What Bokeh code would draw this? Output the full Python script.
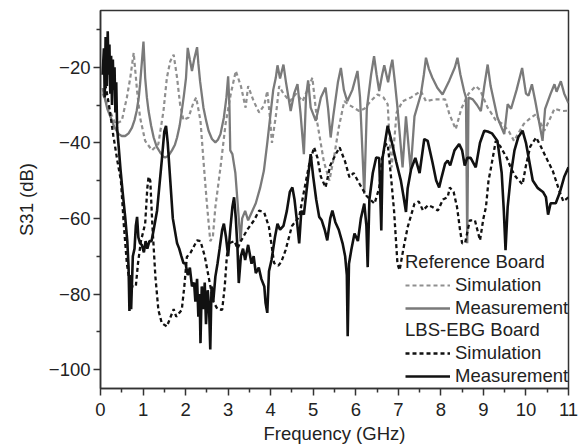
from bokeh.plotting import figure
from bokeh.models import FixedTicker, Legend, LegendItem
from bokeh.embed import file_html
from bokeh.resources import INLINE

# ---------------- data ----------------
ref_meas_f = [0.05, 0.08, 0.16, 0.24, 0.33, 0.43, 0.5, 0.58, 0.66, 0.74, 0.8, 0.85, 0.9, 0.93, 0.97, 1.01,
              1.03, 1.05, 1.09, 1.13, 1.19, 1.25, 1.32, 1.4, 1.47, 1.52, 1.6, 1.68, 1.75, 1.8, 1.86, 1.91,
              1.96, 2.01, 2.05, 2.1, 2.15, 2.2, 2.27, 2.3, 2.34, 2.42, 2.48, 2.54, 2.62, 2.7, 2.76, 2.82,
              2.9, 2.96, 3.0, 3.03, 3.05, 3.1, 3.17, 3.25, 3.29, 3.33, 3.4, 3.47, 3.55, 3.65, 3.75, 3.84,
              3.92, 4.0, 4.06, 4.12, 4.16, 4.22, 4.3, 4.36, 4.47, 4.55, 4.63, 4.7, 4.78, 4.83, 4.88, 4.94,
              5.06, 5.18, 5.29, 5.35, 5.41, 5.47, 5.58, 5.65, 5.72, 5.8, 5.92, 6.04, 6.1, 6.2, 6.26, 6.36,
              6.43, 6.49, 6.55, 6.62, 6.67, 6.72, 6.76, 6.82, 6.86, 6.92, 6.98, 7.1, 7.18, 7.29, 7.38, 7.53,
              7.6, 7.65, 7.72, 7.8, 7.92, 8.04, 8.2, 8.33, 8.39, 8.46, 8.55, 8.59, 8.62, 8.65, 8.75, 8.85,
              8.94, 9.02, 9.1, 9.17, 9.33, 9.49, 9.57, 9.65, 9.78, 9.91, 10.0, 10.06, 10.14, 10.22, 10.39,
              10.45, 10.58, 10.67, 10.72, 10.82, 10.9, 11.0]
ref_meas_db = [-25.5, -27.2, -31, -33.3, -36, -37.7, -38.2, -38.2, -37.5, -36, -34, -31.6, -28, -24.5, -19, -13.2,
               -18, -22.8, -28, -31.6, -35.5, -38.6, -41, -42.5, -43.6, -43.9, -43.4, -42, -40.5, -38.6, -35.5, -31.6,
               -27.5, -22.8, -14.9, -18, -21, -18, -14.7, -19, -23.7, -30.7, -34, -36.8, -39, -39.9, -39.2, -37.7,
               -33.3, -28, -22.4, -30, -42, -43, -48, -60, -66, -60, -58, -60.5, -58.5, -56, -52, -47.4,
               -40, -32, -26, -22.8, -19.5, -23, -19.3, -24, -31.6, -27, -24.5, -32, -43, -28, -23.5, -30.7,
               -34.2, -28, -25.4, -31, -38.6, -33, -24, -20.2, -26, -29, -26, -21, -28, -53.5, -31, -22,
               -17.1, -22, -26.3, -22, -19.5, -22, -24, -20, -18, -24, -30.7, -46.5, -33, -47.3, -33, -27.2,
               -22, -17.5, -20.5, -22.8, -25.5, -27.2, -23.5, -20, -17.5, -22, -26.5, -28, -66.6, -28, -28.5, -30,
               -31.6, -25, -19.3, -25, -33.3, -37.7, -29.8, -31, -26, -20.2, -27, -27.5, -24.5, -29, -39.5,
               -31, -27, -24.5, -26.5, -23.7, -27, -29.5]

ref_sim_f = [0.05, 0.2, 0.35, 0.5, 0.62, 0.7, 0.78, 0.86, 0.93, 1.05, 1.21, 1.36, 1.48, 1.56, 1.64, 1.72,
             1.8, 1.87, 1.95, 2.07, 2.18, 2.25, 2.35, 2.42, 2.5, 2.58, 2.64, 2.7, 2.82, 2.94, 3.06, 3.18, 3.3,
             3.41, 3.47, 3.6, 3.73, 3.85, 3.92, 3.98, 4.03, 4.12, 4.2, 4.3, 4.45, 4.6, 4.75, 4.9, 4.98,
             5.05, 5.1, 5.25, 5.38, 5.5, 5.6, 5.73, 5.85, 6.08, 6.2, 6.35, 6.51, 6.65, 6.75, 6.78, 6.84,
             6.9, 6.96, 7.1, 7.3, 7.53, 7.65, 7.85, 8.1, 8.2, 8.35, 8.48, 8.65, 8.82, 8.92, 9.1, 9.29,
             9.45, 9.6, 9.72, 9.82, 9.95, 10.1, 10.24, 10.43, 10.55, 10.67, 10.86, 11.0]
ref_sim_db = [-27, -31, -35, -34.2, -28, -22.8, -16.2, -26.3, -33.3, -39.5, -42, -40.3, -31.6, -22.8, -18.4, -16.7,
              -22.8, -29.8, -34, -33.3, -29.5, -28, -34.2, -44.7, -56, -66, -65, -57, -46.5, -35, -27.2, -21, -25,
              -30.7, -25, -29, -32, -30, -26.3, -33, -40, -33, -25, -27, -29, -27, -29, -25, -22.8,
              -30, -35, -45, -50, -43, -36, -29, -30, -31.6, -31, -29, -27.2, -28, -29.8, -36, -46.5,
              -40, -32, -29, -28, -26.3, -29, -28.5, -28.5, -32.4, -36.4, -31, -27, -25, -26, -30.7, -34,
              -35, -37, -39.5, -37.5, -35, -33.5, -32.4, -36.8, -34, -31, -31.6, -31.5]

lbs_meas_f = [0.05, 0.08, 0.1, 0.12, 0.15, 0.17, 0.19, 0.21, 0.23, 0.25, 0.27, 0.29, 0.31, 0.33, 0.35,
              0.37, 0.39, 0.42, 0.47, 0.52, 0.58, 0.63, 0.66, 0.68, 0.7, 0.72, 0.76, 0.8, 0.83, 0.86,
              0.89, 0.93, 0.97, 1.02, 1.06, 1.1, 1.15, 1.2, 1.25, 1.33, 1.44, 1.5, 1.54, 1.58, 1.64,
              1.7, 1.8, 1.85, 1.9, 1.95, 2.0, 2.05, 2.1, 2.15, 2.2, 2.23, 2.27, 2.3, 2.33, 2.35, 2.38,
              2.42, 2.45, 2.48, 2.52, 2.55, 2.58, 2.61, 2.65, 2.7, 2.75, 2.8, 2.86, 2.9, 2.95, 3.0,
              3.05, 3.1, 3.14, 3.18, 3.22, 3.25, 3.3, 3.35, 3.4, 3.47, 3.55, 3.6, 3.65, 3.72, 3.78,
              3.85, 3.88, 3.92, 3.96, 4.02, 4.1, 4.16, 4.22, 4.3, 4.38, 4.45, 4.51, 4.56, 4.62, 4.67,
              4.72, 4.78, 4.85, 4.94, 5.0, 5.07, 5.14, 5.2, 5.27, 5.33, 5.4, 5.45, 5.52, 5.6, 5.69,
              5.75, 5.79, 5.81, 5.84, 5.9, 5.97, 6.05, 6.12, 6.2, 6.25, 6.28, 6.32, 6.4, 6.48, 6.55,
              6.6, 6.63, 6.7, 6.75, 6.85, 6.95, 7.06, 7.12, 7.18, 7.22, 7.3, 7.4, 7.5, 7.61, 7.69,
              7.8, 7.89, 7.96, 8.02, 8.1, 8.16, 8.22, 8.32, 8.43, 8.5, 8.56, 8.62, 8.7, 8.82, 8.92,
              9.02, 9.1, 9.2, 9.33, 9.43, 9.48, 9.52, 9.57, 9.65, 9.73, 9.82, 9.92, 10.0, 10.08, 10.16,
              10.28, 10.4, 10.47, 10.52, 10.58, 10.7, 10.8, 10.9, 11.0]
lbs_meas_db = [-22, -15, -28, -12, -25, -10.5, -22, -14, -27, -17, -30, -18, -26, -20, -32,
               -24, -36, -40, -47, -53, -59.6, -66, -73, -84.5, -75, -84, -70, -68, -62, -59.6,
               -65, -66.6, -67, -69, -66, -68, -66, -66, -63, -57.9, -44.7, -37, -35.5, -40, -50,
               -60, -66.6, -68, -70, -71.8, -72, -75, -73, -78, -77, -82, -76, -86, -80, -93, -78,
               -84, -77, -88, -79, -83, -94.7, -78, -82, -75.4, -72, -68, -63, -61.4, -65, -70,
               -63, -57, -54.4, -60, -68, -77.1, -70, -68, -71, -67, -72, -70, -74.5, -73, -76,
               -78, -82.4, -85, -74, -71, -65, -61.4, -63, -62, -58, -53, -51.8, -55, -61, -66.6,
               -58, -59, -52, -43, -49, -55, -59.6, -60.5, -63, -65.8, -60, -57.9, -61, -63, -66.6,
               -70, -75, -91.2, -72, -68, -64, -66, -60, -56.1, -62, -72.9, -55, -48, -43.9, -44,
               -63.2, -44, -39, -35.5, -40, -45, -50, -54, -58.3, -52, -47, -44, -48, -39, -39.5,
               -45, -50, -51.8, -49, -45.5, -44.7, -46, -42, -40.3, -42, -46, -44, -44, -46.5, -40,
               -36.8, -37, -37.5, -39.5, -48, -58, -68.4, -57, -48, -42, -38.5, -36.8, -40, -45, -50,
               -52, -53, -54.4, -59, -56, -56, -53, -49, -46.5]

lbs_sim_f = [0.08, 0.12, 0.2, 0.3, 0.4, 0.48, 0.55, 0.62, 0.7, 0.74, 0.83, 0.88, 0.95, 1.05, 1.1, 1.13,
             1.17, 1.22, 1.29, 1.36, 1.44, 1.56, 1.65, 1.72, 1.78, 1.85, 1.91, 1.97, 2.03, 2.12, 2.27,
             2.35, 2.45, 2.55, 2.65, 2.75, 2.86, 2.92, 2.97, 3.02, 3.15, 3.22, 3.3, 3.45, 3.61, 3.73,
             3.85, 3.96, 4.02, 4.08, 4.18, 4.25, 4.35, 4.5, 4.67, 4.78, 4.9, 5.02, 5.1, 5.18, 5.29,
             5.4, 5.53, 5.62, 5.75, 5.85, 5.95, 6.09, 6.25, 6.44, 6.55, 6.62, 6.7, 6.75, 6.82, 6.9,
             6.98, 7.03, 7.12, 7.22, 7.38, 7.48, 7.58, 7.7, 7.8, 7.93, 8.05, 8.16, 8.21, 8.3, 8.38,
             8.45, 8.5, 8.57, 8.68, 8.8, 8.92, 9.0, 9.06, 9.12, 9.18, 9.29, 9.4, 9.55, 9.66, 9.76, 9.92,
             10.0, 10.1, 10.24, 10.35, 10.5, 10.63, 10.78, 10.88, 11.0]
lbs_sim_db = [-25, -25, -30, -38, -45, -50, -62, -72, -78, -78, -78, -72, -66, -61.4, -52, -49,
              -50, -62, -75.4, -84.2, -87.7, -88.6, -86, -84, -86, -85, -84.2, -78, -70.2, -69, -65.8,
              -66, -70, -76, -82, -84, -84.2, -78, -70, -66.6, -66, -68, -66, -63, -60.5, -57.9,
              -58.5, -62.3, -67, -71.8, -72.5, -71.5, -68.4, -62, -59.6, -53, -46, -41.2, -44, -49, -51.8,
              -46, -43, -41.2, -45, -49.1, -48, -50.9, -54, -56.1, -52, -44, -40.5, -40.3, -48, -58,
              -72, -73.7, -68, -62.3, -56.1, -55.5, -57.9, -56.5, -57, -57.9, -55, -54.4, -51.8, -53, -57,
              -63, -66.6, -66.5, -60.5, -60.5, -65.8, -60, -57, -50, -46.5, -39.5, -41, -44, -47, -49, -51,
              -46, -41, -38.6, -41, -44.5, -47.4, -52.6, -55.5, -54.4]

x_ticks = [0, 1, 2, 3, 4, 5, 6, 7, 8, 9, 10, 11]
x_minor = [0.5, 1.5, 2.5, 3.5, 4.5, 5.5, 6.5, 7.5, 8.5, 9.5, 10.5]
y_ticks = [-100, -80, -60, -40, -20]
y_minor = [-90, -70, -50, -30, -10]

FONT = "Liberation Sans"
GRAY = "#7a7a7a"
GRAY_D = "#8f8f8f"
BLACK = "#111111"

p = figure(width=588, height=447, x_range=(0, 11), y_range=(-105, -5),
           output_backend="svg", toolbar_location=None,
           min_border_left=100, min_border_right=20, min_border_top=10, min_border_bottom=59)

p.xgrid.visible = False
p.ygrid.visible = False
p.background_fill_color = "white"
p.outline_line_color = "#333333"
p.outline_line_width = 1.5

r_rs = p.line(ref_sim_f, ref_sim_db, line_color=GRAY_D, line_width=2.2, line_dash="4 3")
r_rm = p.line(ref_meas_f, ref_meas_db, line_color=GRAY, line_width=2.3)
r_ls = p.line(lbs_sim_f, lbs_sim_db, line_color=BLACK, line_width=2.3, line_dash="4 3")
r_lm = p.line(lbs_meas_f, lbs_meas_db, line_color=BLACK, line_width=2.6)

p.xaxis.ticker = FixedTicker(ticks=x_ticks, minor_ticks=x_minor)
p.yaxis.ticker = FixedTicker(ticks=y_ticks, minor_ticks=y_minor)
p.xaxis.axis_label = "Frequency (GHz)"
p.yaxis.axis_label = "S31 (dB)"
for ax in (p.xaxis[0], p.yaxis[0]):
    ax.axis_line_color = "#333333"
    ax.axis_line_width = 1.5
    ax.major_tick_line_color = "#333333"
    ax.minor_tick_line_color = "#333333"
    ax.major_tick_line_width = 1.5
    ax.minor_tick_line_width = 1.5
    ax.major_tick_in = 0
    ax.major_tick_out = 7
    ax.minor_tick_in = 0
    ax.minor_tick_out = 4
    ax.major_label_text_font = FONT
    ax.major_label_text_font_size = "18.5px"
    ax.major_label_text_color = "#222222"
    ax.axis_label_text_font = FONT
    ax.axis_label_text_font_size = "18.5px"
    ax.axis_label_text_font_style = "normal"
    ax.axis_label_text_color = "#222222"
p.xaxis.major_label_standoff = 7
p.yaxis.major_label_standoff = 3
p.xaxis.axis_label_standoff = 4
p.yaxis.axis_label_standoff = 9


def make_legend(title, items, loc):
    lg = Legend(items=items, title=title, location=loc,
                background_fill_alpha=0, border_line_alpha=0,
                padding=0, margin=0, spacing=1,
                label_text_font=FONT, label_text_font_size="18.5px", label_text_color="#222222",
                title_text_font=FONT, title_text_font_size="18.5px", title_text_color="#222222",
                title_text_font_style="normal", title_standoff=1,
                glyph_width=45, glyph_height=22, label_height=22, label_standoff=5)
    return lg


leg1 = make_legend("Reference Board",
                   [LegendItem(label="Simulation", renderers=[r_rs]),
                    LegendItem(label="Measurement", renderers=[r_rm])], (305, 69))
leg2 = make_legend("LBS-EBG Board",
                   [LegendItem(label="Simulation", renderers=[r_ls]),
                    LegendItem(label="Measurement", renderers=[r_lm])], (305, 1))
p.add_layout(leg1, "center")
p.add_layout(leg2, "center")

open("out.html", "w").write(file_html(p, INLINE))
